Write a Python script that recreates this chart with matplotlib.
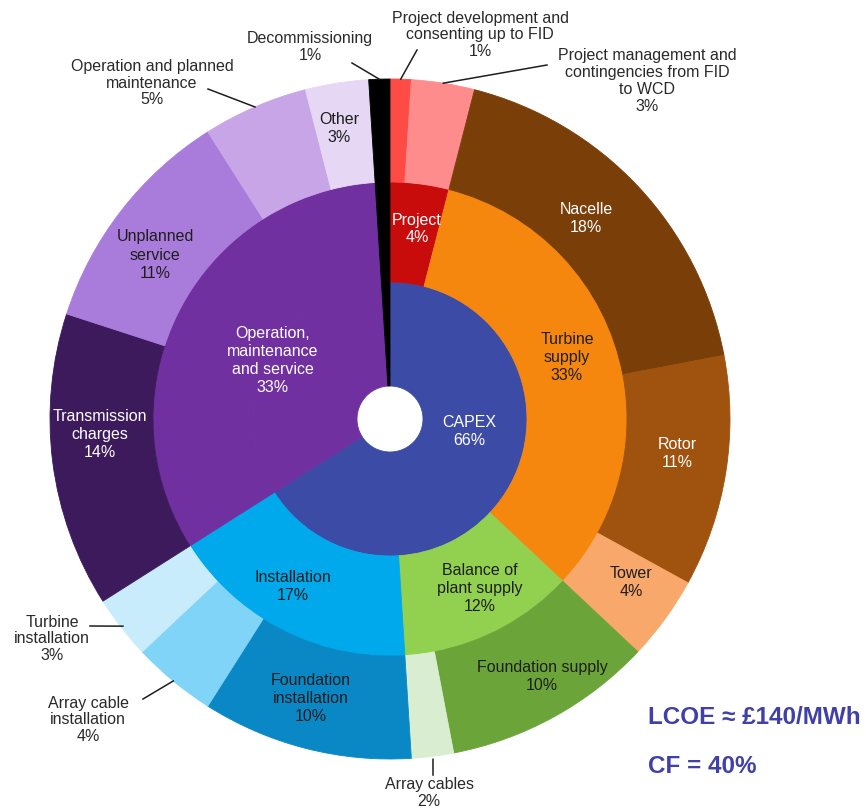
import numpy as np
import matplotlib
matplotlib.use("Agg")
import matplotlib.pyplot as plt

plt.rcParams['font.family'] = ['Liberation Sans', 'DejaVu Sans']

W, H = 866, 812
cx, cy = 390, 420          # ring centre (pixel units, y down)
r_hole, r_inner, r_mid, r_outer = 33, 137, 237, 340

# ---- data ----
inner_names = ["CAPEX", "Operation,\nmaintenance\nand service", "Decommissioning"]
inner_values = [66, 33, 1]

middle_names = ["Project", "Turbine\nsupply", "Balance of\nplant supply", "Installation",
                "Operation,\nmaintenance\nand service", "Decommissioning"]
middle_values = [4, 33, 12, 17, 33, 1]

outer_names = ["Project development and\nconsenting up to FID",
               "Project management and\ncontingencies from FID\nto WCD",
               "Nacelle", "Rotor", "Tower", "Foundation supply", "Array cables",
               "Foundation\ninstallation", "Array cable\ninstallation",
               "Turbine\ninstallation", "Transmission\ncharges", "Unplanned\nservice",
               "Operation and planned\nmaintenance", "Other", "Decommissioning"]
outer_values = [1, 3, 18, 11, 4, 10, 2, 10, 4, 3, 14, 11, 5, 3, 1]

# ---- colours ----
inner_colors = ["#3b4ba6", "#7030a0", "#000000"]
middle_colors = ["#c80c0c", "#f5870f", "#92d050", "#00a9ec", "#7030a0", "#000000"]
outer_colors = ["#ff4b45", "#ff8c8c", "#7a3e08", "#a0520f", "#f8a86a", "#6ba539",
                "#d9eed0", "#0a88c6", "#80d4f8", "#c8ecfc", "#3c1a5b", "#a97cdb",
                "#c8a5e6", "#e6d8f4", "#000000"]

# ---- label layout (pixel positions) ----
DARK = "#1e1e1e"
inside_labels = {
    "CAPEX": (469, 432, "white"),
    "Operation,\nmaintenance\nand service": (273, 361, "white"),
    "Project": (417, 229, "white"),
    "Turbine\nsupply": (567, 358, DARK),
    "Balance of\nplant supply": (480, 589, DARK),
    "Installation": (293, 587, DARK),
    "Nacelle": (586, 218, "white"),
    "Rotor": (677, 454, "white"),
    "Tower": (631, 583, DARK),
    "Foundation supply": (542, 677, DARK),
    "Foundation\ninstallation": (311, 699, DARK),
    "Transmission\ncharges": (100, 435, "white"),
    "Unplanned\nservice": (155, 255, DARK),
    "Other": (339, 129, DARK),
}
# text centre, leader start, leader radius at the ring
outside_labels = {
    "Decommissioning": ((310, 47), (352, 64), 340),
    "Project development and\nconsenting up to FID": ((480, 35), (417, 51), 340),
    "Project management and\ncontingencies from FID\nto WCD": ((647, 81), (547, 66), 340),
    "Operation and planned\nmaintenance": ((152, 83), (208, 90), 340),
    "Turbine\ninstallation": ((52, 639), (90, 627), 338),
    "Array cable\ninstallation": ((88, 720), (143, 700), 340),
    "Array cables": ((429, 793), (433, 776), 343),
}

fig = plt.figure(figsize=(W / 100, H / 100), dpi=100)
ax = fig.add_axes([0, 0, 1, 1])

def ring(values, colors, radius, width):
    # y axis is inverted below, so counterclock + startangle -90 runs clockwise from 12 o'clock
    wedges, _ = ax.pie(values, colors=colors, radius=radius, center=(cx, cy),
                       startangle=-90, counterclock=True,
                       wedgeprops=dict(width=width, linewidth=0.6))
    for w in wedges:
        w.set_edgecolor(w.get_facecolor())
    return wedges

ring(inner_values, inner_colors, r_inner, r_inner - r_hole)
ring(middle_values, middle_colors, r_mid, r_mid - r_inner)
ring(outer_values, outer_colors, r_outer, r_outer - r_mid)

ax.set_xlim(0, W)
ax.set_ylim(H, 0)
ax.set_aspect('equal')
ax.axis('off')

all_names = inner_names + middle_names + outer_names
all_values = inner_values + middle_values + outer_values
value_of = dict(zip(all_names, all_values))

for name, (x, y, c) in inside_labels.items():
    ax.text(x, y, f"{name}\n{value_of[name]}%", ha='center', va='center',
            color=c, fontsize=11.5, linespacing=1.25)

# mid angle (clockwise from top) of each outer wedge, for the leader lines
cum = np.cumsum([0] + outer_values[:-1])
mid_frac = dict(zip(outer_names, (cum + np.array(outer_values) / 2) / 100))

for name, ((tx, ty), (lx, ly), r) in outside_labels.items():
    a = 2 * np.pi * mid_frac[name]
    ex, ey = cx + r * np.sin(a), cy - r * np.cos(a)
    ax.plot([lx, ex], [ly, ey], color="#1e1e1e", lw=1.1)
    ax.text(tx, ty, f"{name}\n{value_of[name]}%", ha='center', va='center',
            color="#2a2a2a", fontsize=11.5, linespacing=1.15)

ax.text(648, 718, "LCOE \u2248 \u00a3140/MWh", ha='left', va='center',
        color="#4040a8", fontsize=17.5, fontweight='bold')
ax.text(648, 767, "CF = 40%", ha='left', va='center',
        color="#4040a8", fontsize=17.5, fontweight='bold')

fig.savefig("out.png", dpi=100)
